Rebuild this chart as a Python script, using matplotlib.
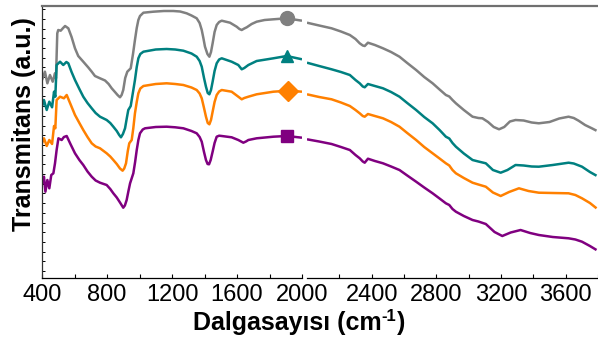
import matplotlib
matplotlib.use("Agg")
import matplotlib.pyplot as plt
from matplotlib.lines import Line2D
import numpy as np

plt.rcParams["font.family"] = ["Liberation Sans", "DejaVu Sans"]

# ---- spectra: low range (400-2000 cm-1) ----
gray_wn_lo = [400, 418, 433, 449, 466, 480, 486, 494, 500, 515, 530, 542, 562, 582, 603, 623, 654, 685, 706,
              726, 757, 788, 810, 829, 849, 865, 880, 890, 900, 912, 925, 946, 960, 972, 983, 993, 1003, 1024,
              1085, 1150, 1208, 1250, 1290, 1320, 1352, 1370, 1383, 1393, 1403, 1418, 1430, 1440, 1450, 1462,
              1475, 1490, 1506, 1557, 1598, 1615, 1629, 1645, 1660, 1690, 1721, 1770, 1824, 1906, 2000]
gray_lo = [198, 206.3, 194.7, 203, 196.3, 204.7, 199.7, 244.7, 248, 247.3, 250, 252, 249.7, 241, 229.7, 222,
           216.3, 210.5, 206.3, 202, 199.7, 197.5, 194, 189.7, 186, 183, 180.7, 183, 188, 200, 206.3, 209.7,
           224, 238, 250, 258, 262, 265.3, 266.3, 267, 267, 266.5, 264.7, 262.5, 259.7, 255, 248, 240, 231.3,
           224, 221.3, 226, 234.7, 246, 253, 256, 257.3, 255.3, 251.3, 249, 248, 249.5, 250.7, 254, 256.3,
           258, 258.7, 259.7, 257.3]

teal_wn_lo = [400, 412, 429, 445, 462, 474, 482, 490, 511, 531, 550, 562, 582, 603, 630, 654, 680, 706, 730,
              757, 798, 820, 839, 860, 875, 886, 898, 911, 922, 931, 946, 960, 972, 983, 993, 1005, 1024, 1100,
              1167, 1220, 1270, 1320, 1352, 1370, 1383, 1397, 1409, 1420, 1430, 1440, 1450, 1462, 1475, 1490,
              1506, 1567, 1608, 1629, 1645, 1670, 1721, 1824, 1906, 2000]
teal_lo = [171.3, 178, 168, 176.3, 170.7, 186.3, 181.3, 213, 216.3, 213, 216, 214.7, 206, 198, 189, 181.3,
           175, 169.7, 165, 161.3, 158, 155, 151.3, 147, 143, 140.7, 144, 149.7, 160, 168, 172, 186, 198, 211,
           219.7, 224, 226.3, 228.5, 229, 228.5, 227.3, 224.5, 221.3, 217, 211.3, 200, 191.3, 185, 183.7, 188,
           196.3, 207, 214.7, 218.5, 219.7, 216.3, 213, 208.7, 210, 213, 217, 219.7, 222, 218.7]

orange_wn_lo = [400, 412, 429, 445, 462, 474, 482, 490, 511, 535, 552, 575, 603, 630, 654, 680, 706, 730, 757,
                798, 820, 839, 860, 880, 896, 906, 917, 928, 937, 952, 962, 972, 983, 993, 1005, 1024, 1100,
                1167, 1220, 1270, 1320, 1352, 1370, 1383, 1397, 1409, 1420, 1430, 1440, 1450, 1462, 1475,
                1490, 1506, 1567, 1608, 1629, 1645, 1670, 1721, 1824, 1916, 2000]
orange_lo = [134.7, 139.7, 132, 138, 134, 152, 149.7, 178, 181.3, 179.7, 183, 174, 163, 155, 148, 141, 134.7,
             131.5, 129.7, 124.7, 121.5, 118, 114, 109.5, 107.3, 109.5, 114.7, 127, 134.7, 138, 150, 164.7,
             176, 184.7, 189.5, 192, 194, 194.7, 194, 193, 190.5, 188, 184.5, 179.7, 170, 161.3, 155, 153.7,
             158, 166.3, 176, 183, 186.5, 188, 186.3, 181.3, 178.7, 180, 181.3, 183.7, 186.3, 187.3, 186.3]

purple_wn_lo = [404, 412, 421, 433, 445, 457, 470, 480, 490, 501, 521, 535, 552, 575, 603, 630, 654, 680, 706,
                730, 757, 798, 820, 839, 860, 880, 900, 910, 921, 932, 942, 962, 973, 983, 993, 1003, 1020,
                1034, 1100, 1167, 1220, 1270, 1320, 1352, 1370, 1383, 1397, 1409, 1419, 1428, 1438, 1450,
                1462, 1475, 1490, 1506, 1567, 1608, 1639, 1655, 1670, 1721, 1824, 1906, 2000]
purple_lo = [94.7, 101.3, 86.3, 98, 89.7, 103, 104.7, 114.7, 128, 139.7, 138, 141, 142, 134, 124.7, 118, 113,
             106.5, 101.3, 97.5, 95.3, 93, 89, 84.7, 80.5, 75.5, 70.3, 72.5, 78, 87, 94.7, 104.7, 116, 128,
             138, 144.7, 148.5, 149.7, 151, 151.3, 150.7, 149.7, 147, 144.7, 141, 136.3, 126, 118, 114, 113.7,
             118, 126.3, 135, 141.3, 142.3, 142, 140.7, 138, 135.3, 136.5, 138, 139.7, 141.3, 142, 140.3]

# ---- spectra: high range (2000-3800 cm-1) ----
gray_wn_hi = [2000, 2075, 2152, 2210, 2265, 2300, 2326, 2345, 2357, 2377, 2420, 2470, 2520, 2572, 2620, 2675,
              2725, 2777, 2820, 2859, 2880, 2900, 2921, 2970, 3024, 3060, 3085, 3120, 3155, 3188, 3220, 3255,
              3290, 3340, 3390, 3434, 3500, 3560, 3618, 3650, 3680, 3720, 3762, 3791]
gray_hi = [255.3, 252.5, 249.7, 246.5, 243, 239, 234.7, 232.5, 232, 235.3, 233, 229.7, 226, 221.3, 215, 208,
           201, 194.7, 188.5, 183, 181.5, 178, 174.7, 168, 161.3, 160, 159.7, 156, 151, 148.7, 151, 156.5,
           158, 157.5, 155.5, 154.7, 156, 159.5, 161.3, 160, 157.3, 153, 149.7, 147.3]

teal_wn_hi = [2000, 2075, 2152, 2210, 2265, 2300, 2326, 2345, 2357, 2377, 2420, 2470, 2520, 2572, 2620, 2675,
              2725, 2777, 2820, 2859, 2880, 2900, 2921, 2970, 3024, 3060, 3106, 3150, 3198, 3240, 3290, 3340,
              3390, 3434, 3520, 3618, 3650, 3701, 3750, 3791]
teal_hi = [215.3, 212, 208.7, 206, 203, 198, 194.7, 191.5, 190.7, 194, 192, 189.7, 186, 181.3, 175, 168, 161,
           154.7, 148, 141.3, 139.5, 135, 131.3, 124.5, 118, 116.5, 114.7, 108, 105.3, 108, 113, 112.5, 111.5,
           111.3, 113, 115.3, 114.5, 111.3, 106, 102.3]

orange_wn_hi = [2000, 2075, 2152, 2210, 2265, 2300, 2326, 2345, 2357, 2377, 2420, 2470, 2520, 2572, 2620,
                2675, 2725, 2777, 2820, 2859, 2880, 2900, 2921, 2970, 3024, 3060, 3106, 3150, 3198, 3250,
                3311, 3370, 3434, 3520, 3618, 3660, 3701, 3750, 3791]
orange_hi = [183.7, 181, 178.7, 175.5, 172, 168, 164.7, 162, 161.3, 164, 162, 159.7, 156, 151.3, 145, 138,
             131, 124.7, 119.5, 114.7, 112.5, 108, 104.7, 100, 95.3, 93.5, 91.3, 85.5, 82, 86, 89.7, 87, 85.3,
             85, 84.7, 83, 79.7, 75, 69.7]

purple_wn_hi = [2000, 2075, 2152, 2210, 2265, 2300, 2326, 2345, 2357, 2377, 2420, 2470, 2520, 2572, 2620,
                2675, 2725, 2777, 2820, 2859, 2880, 2900, 2921, 2970, 3024, 3060, 3106, 3160, 3208, 3260,
                3321, 3380, 3434, 3520, 3618, 3660, 3701, 3750, 3791]
purple_hi = [138.7, 136.5, 134, 131, 128, 123, 119.7, 116.5, 115.3, 119.3, 117, 114.7, 111.5, 108, 102.5,
             96.3, 90.5, 84.7, 79.5, 74.7, 73, 69, 66.3, 62, 58, 56.5, 54, 46, 42, 45.5, 48, 45, 43, 41, 39.7,
             38.5, 36.3, 32, 28]

# marker wavenumber for each sample
marker_wn = [1906, 1906, 1916, 1906]

series = [
    ("#808080", "o", 10.0, gray_wn_lo, gray_lo, gray_wn_hi, gray_hi),
    ("#008080", "^", 9.0, teal_wn_lo, teal_lo, teal_wn_hi, teal_hi),
    ("#FF8000", "D", 10.5, orange_wn_lo, orange_lo, orange_wn_hi, orange_hi),
    ("#800080", "s", 9.0, purple_wn_lo, purple_lo, purple_wn_hi, purple_hi),
]

W, H = 598, 340
fig = plt.figure(figsize=(W / 100, H / 100), dpi=100)

y_bot, y_top = 278, 5.5
ax_lo = fig.add_axes([42 / W, 1 - y_bot / H, 260 / W, (y_bot - y_top) / H])
ax_hi = fig.add_axes([307 / W, 1 - y_bot / H, 291 / W, (y_bot - y_top) / H])

for (c, m, ms, wl, vl, wh, vh), mw in zip(series, marker_wn):
    idx = wl.index(mw)
    ax_lo.plot(wl, vl, color=c, lw=1.8, marker=m, markersize=ms, markevery=[idx],
               solid_joinstyle="round", solid_capstyle="butt")
    ax_hi.plot(wh, vh, color=c, lw=1.8, solid_joinstyle="round", solid_capstyle="butt")

ax_lo.set_xlim(400, 2000)
ax_hi.set_xlim(2000, 3790)
for ax in (ax_lo, ax_hi):
    ax.set_ylim(0, 272.5)
    ax.spines["right"].set_visible(False)
    ax.spines["top"].set_visible(False)
    ax.spines["bottom"].set_color("black")
    ax.spines["bottom"].set_linewidth(0.9)
    ax.tick_params(axis="x", direction="in", length=3, width=0.8, labelsize=17, pad=4,
                   which="both")

# one frame line across the top of both panels
fig.add_artist(Line2D([42 / W, 1.0], [1 - y_top / H, 1 - y_top / H], transform=fig.transFigure,
                      color="#707070", lw=1.6))

ax_hi.spines["left"].set_visible(False)
ax_hi.set_yticks([])
ax_lo.spines["left"].set_color("#303030")
ax_lo.spines["left"].set_linewidth(0.9)
ax_lo.set_yticks(np.arange(7, 272, 9.7))
ax_lo.tick_params(axis="y", direction="in", length=2, width=0.7, labelleft=False)

ax_lo.set_xticks([400, 800, 1200, 1600, 2000])
ax_lo.set_xticks([600, 1000, 1400, 1800], minor=True)
ax_hi.set_xticks([2400, 2800, 3200, 3600])
ax_hi.set_xticks([2200, 2600, 3000, 3400, 3800], minor=True)

# x-axis title built from pieces so the exponent keeps a short hyphen
renderer = fig.canvas.get_renderer()
base_y = 1 - 330 / H
parts = [("Dalgasayısı (cm", 18, 0.0), ("-1", 12, 9.0), (")", 18, 0.0)]
texts = []
widths = []
for s, fs, dy in parts:
    t = fig.text(0, base_y + dy / H, s, ha="left", va="baseline", fontsize=fs, fontweight="bold")
    widths.append(t.get_window_extent(renderer).width)
    texts.append(t)
x = (W / 2 - sum(widths) / 2)
for t, w in zip(texts, widths):
    t.set_x(x / W)
    x += w

fig.text(24 / W, 1 - 124 / H, "Transmitans (a.u.)", ha="center", va="center", rotation=90,
         fontsize=18, fontweight="bold")

fig.savefig("out.png", dpi=100)
